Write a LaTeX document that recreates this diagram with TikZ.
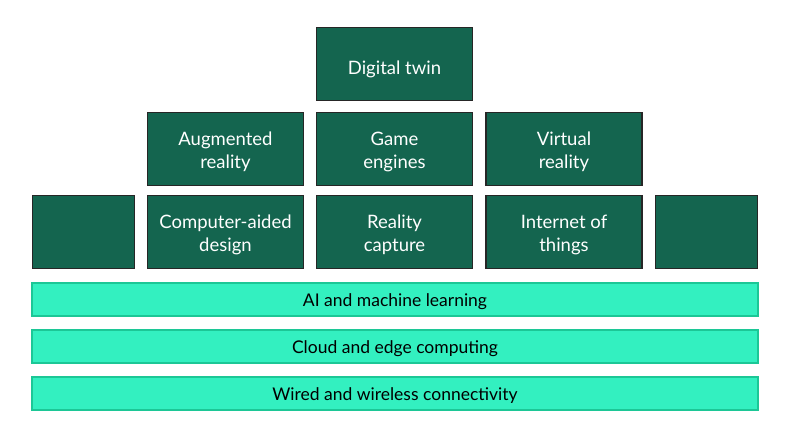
\documentclass[tikz,border=0pt]{standalone}
\usepackage{fontspec}
\setmainfont{Lato}
\definecolor{dkg}{HTML}{14654F}
\definecolor{bar}{HTML}{33F0C0}
\definecolor{barline}{HTML}{1CC796}
\newcommand{\tiletext}[2][-3pt]{\raisebox{#1}[\height][\depth]{\begin{tabular}{@{}c@{}}#2\end{tabular}}}
\newcommand{\bartext}[1]{\raisebox{-2pt}[\height][\depth]{#1}}
\begin{document}
\begin{tikzpicture}[x=1pt,y=-1pt,
  tile/.style={draw=black!85,line width=1.4pt,fill=dkg,text=white,
    minimum width=156pt,minimum height=73pt,inner sep=0pt,font=\fontsize{18.5}{23}\selectfont},
  sidetile/.style={tile,minimum width=102pt},
  layer/.style={draw=barline,line width=1.2pt,fill=bar,text=black,
    minimum width=726pt,minimum height=33pt,inner sep=0pt,font=\fontsize{17.5}{20}\selectfont}]
\useasboundingbox (0,0) rectangle (792,432);
\fill[white] (0,0) rectangle (792,432);
\node[tile] (dt) at (394.5,64) {\tiletext[-6pt]{Digital twin}};
\node[tile] (ar) at (225.5,149) {\tiletext{Augmented\\reality}};
\node[tile] (ge) at (394.5,149) {\tiletext{Game\\engines}};
\node[tile] (vr) at (564,149) {\tiletext{Virtual\\reality}};
\node[sidetile] (l) at (83.5,232) {};
\node[tile] (cad) at (225.5,232) {\tiletext{Computer-aided\\design}};
\node[tile] (rc) at (394.5,232) {\tiletext{Reality\\capture}};
\node[tile] (iot) at (564,232) {\tiletext{Internet of\\things}};
\node[sidetile] (r) at (706.5,232) {};
\node[layer] (ai) at (395,299.5) {\bartext{AI and machine learning}};
\node[layer] (cloud) at (395,346.5) {\bartext{Cloud and edge computing}};
\node[layer] (wire) at (395,393.5) {\bartext{Wired and wireless connectivity}};
\end{tikzpicture}
\end{document}
